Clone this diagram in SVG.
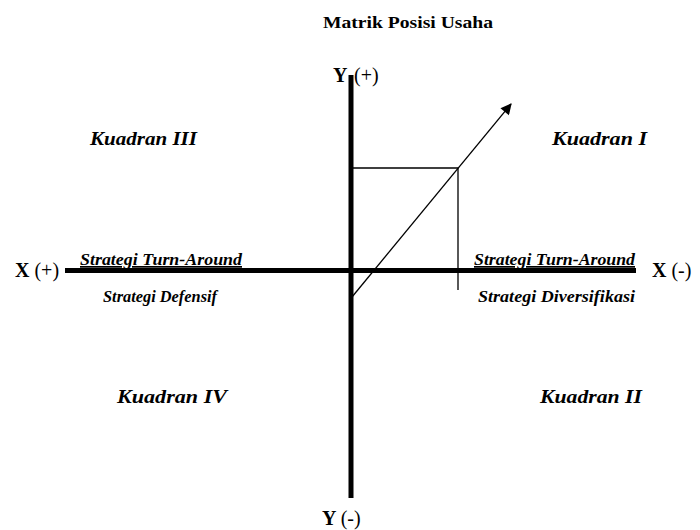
<svg xmlns="http://www.w3.org/2000/svg" width="700" height="530" viewBox="0 0 700 530">
<defs>
<style>
text{font-family:'Liberation Serif','Times New Roman',Times,serif;fill:#000}
.title{font-size:16.5px;font-weight:bold}
.ax{font-size:20px;font-weight:bold}
.p{font-weight:normal}
.quad{font-size:19.5px;font-weight:bold;font-style:italic}
.strat{font-size:17px;font-weight:bold;font-style:italic}
.u{text-decoration:underline}
.axis{stroke:#000;stroke-width:5;fill:none}
.thin{stroke:#000;stroke-width:1.3;fill:none}
</style>
<marker id="ah" viewBox="0 0 10 10" refX="9" refY="5" markerWidth="13" markerHeight="11" markerUnits="userSpaceOnUse" orient="auto">
<path d="M0,0 L10,5 L0,10 z" fill="#000"/>
</marker>
</defs>
<rect width="700" height="530" fill="#fff"/>
<g id="title"><text class="title" x="323" y="28" textLength="170" lengthAdjust="spacingAndGlyphs">Matrik Posisi Usaha</text></g>
<g id="connectors">
<line class="axis" x1="351" y1="75" x2="351" y2="498"/>
<line class="axis" x1="65" y1="270.5" x2="636" y2="270.5"/>
<polyline class="thin" points="351,168 458,168 458,290"/>
<line class="thin" x1="352" y1="297" x2="511" y2="104" marker-end="url(#ah)"/>
</g>
<g id="axis-labels">
<text class="ax" x="333" y="82">Y</text><text class="ax" x="354" y="82"><tspan class="p">(+)</tspan></text>
<text class="ax" x="322" y="525">Y <tspan class="p">(-)</tspan></text>
<text class="ax" x="15" y="277">X <tspan class="p">(+)</tspan></text>
<text class="ax" x="652" y="277">X <tspan class="p">(-)</tspan></text>
</g>
<g id="kuadran-III"><text class="quad" x="90" y="145" textLength="107" lengthAdjust="spacingAndGlyphs">Kuadran III</text></g>
<g id="kuadran-I"><text class="quad" x="552" y="145" textLength="95" lengthAdjust="spacingAndGlyphs">Kuadran I</text></g>
<g id="kuadran-IV"><text class="quad" x="117" y="403" textLength="110" lengthAdjust="spacingAndGlyphs">Kuadran IV</text></g>
<g id="kuadran-II"><text class="quad" x="540" y="403" textLength="102" lengthAdjust="spacingAndGlyphs">Kuadran II</text></g>
<g id="strategi-left">
<text class="strat u" x="80" y="265" textLength="162" lengthAdjust="spacingAndGlyphs">Strategi Turn-Around</text>
<text class="strat" x="103" y="302" textLength="114" lengthAdjust="spacingAndGlyphs">Strategi Defensif</text>
</g>
<g id="strategi-right">
<text class="strat u" x="474" y="265" textLength="161" lengthAdjust="spacingAndGlyphs">Strategi Turn-Around</text>
<text class="strat" x="478" y="302" textLength="157" lengthAdjust="spacingAndGlyphs">Strategi Diversifikasi</text>
</g>
</svg>
